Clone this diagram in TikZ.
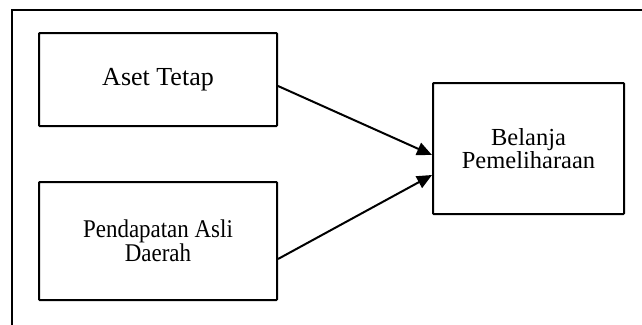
\documentclass[tikz,border=0pt]{standalone}
\usepackage{fontspec}
\setmainfont{Liberation Serif}
\usetikzlibrary{arrows.meta}
\begin{document}
\begin{tikzpicture}[x=1pt,y=-1pt,
  box/.style={draw=black,line width=2pt,rounded corners=0.8pt,inner sep=0pt,align=center},
  conn/.style={line width=2pt,-{Triangle[length=15pt,width=13pt]}}]
\useasboundingbox (0,0) rectangle (642,324);
\clip (0,0) rectangle (642,324);
\draw[line width=1.8pt] (12,330) -- (12,10) -- (650,10);
\node[box,minimum width=238pt,minimum height=93pt,font=\fontsize{26}{26}\selectfont] (a) at (158,79.5)
  {Aset Tetap};
\node[box,minimum width=238pt,minimum height=118pt,font=\fontsize{25.5}{24}\selectfont] (b) at (158,241)
  {\scalebox{0.9}[1]{Pendapatan Asli}\\\scalebox{0.9}[1]{Daerah}};
\node[box,minimum width=191pt,minimum height=131pt,font=\fontsize{24.5}{23}\selectfont] (c) at (528.5,148.5)
  {Belanja\\Pemeliharaan};
\draw[conn] ([yshift=-6.5pt]a.east) -- ([yshift=-6.5pt]c.west);
\draw[conn] ([yshift=-18pt]b.east) -- ([yshift=-26.5pt]c.west);
\end{tikzpicture}
\end{document}
